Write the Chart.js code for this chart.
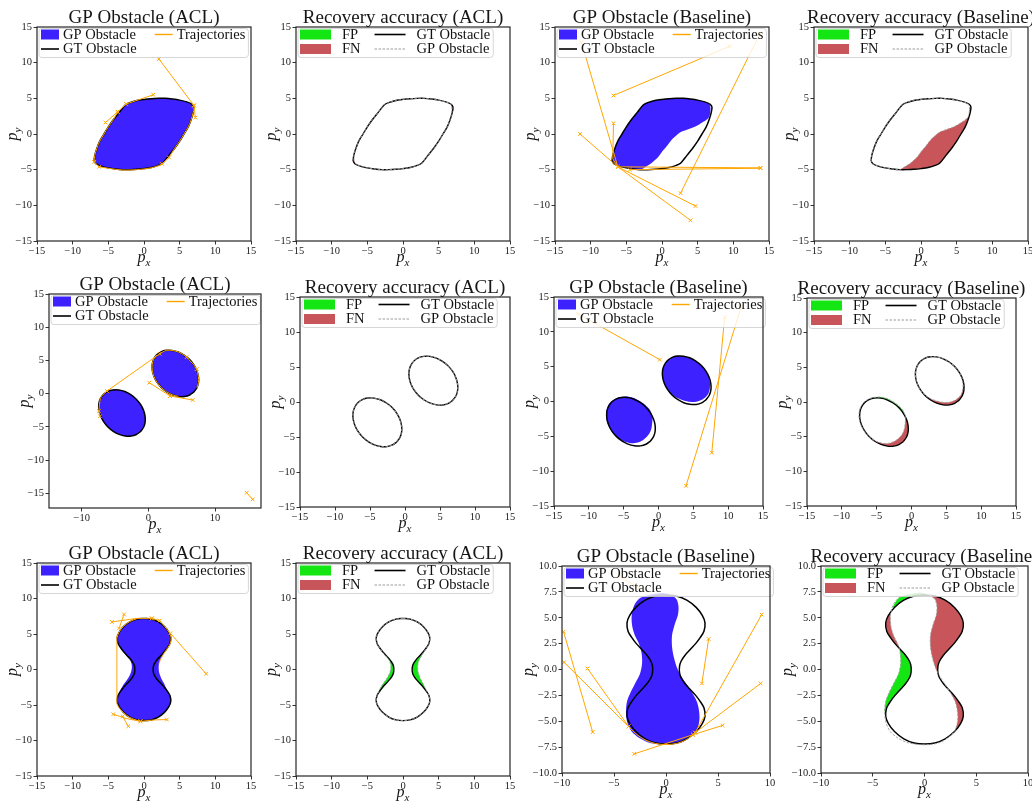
<!DOCTYPE html>
<html>
<head>
<meta charset="utf-8">
<script src="https://cdn.jsdelivr.net/npm/chart.js@4.4.1/dist/chart.umd.min.js"></script>
<style>
  html, body { margin: 0; padding: 0; background: #fff; width: 1032px; height: 801px; overflow: hidden; position: relative; }
  canvas { position: absolute; }
</style>
</head>
<body>
<script>
// ---------- text ----------
const panelTitles = ['GP Obstacle (ACL)', 'Recovery accuracy (ACL)', 'GP Obstacle (Baseline)', 'Recovery accuracy (Baseline)'];
const seriesNames = { gp: 'GP Obstacle', gt: 'GT Obstacle', traj: 'Trajectories', fp: 'FP', fn: 'FN' };

// ---------- axes ----------
const ticksFull = [-15, -10, -5, 0, 5, 10, 15];
const ticksWideX = [-10, 0, 10];
const ticksTen = [-10, -5, 0, 5, 10];
const ticksTenY = [-10, -7.5, -5, -2.5, 0, 2.5, 5, 7.5, 10];
const rangeFull = [-15, 15];
const rangeWideX = [-14.9, 16.9];
const rangeWideY = [-17.2, 15];
const rangeTen = [-10, 10];

// ---------- obstacle 1: lens ----------
const gtLens = [[-7.0,-3.8],[-6.9,-3.0],[-6.6,-2.0],[-6.2,-1.0],[-5.6,0.0],[-5.0,1.0],[-4.3,2.0],[-3.5,3.0],[-2.6,4.1],[-2.0,4.4],[-1.0,4.7],[0.0,4.85],[1.0,4.95],[2.0,5.0],[3.0,5.0],[4.0,4.9],[5.0,4.75],[6.0,4.5],[6.7,4.2],[7.0,3.8],[6.9,3.0],[6.6,2.0],[6.2,1.0],[5.6,0.0],[5.0,-1.0],[4.3,-2.0],[3.5,-3.0],[2.6,-4.1],[2.0,-4.4],[1.0,-4.7],[0.0,-4.85],[-1.0,-4.95],[-2.0,-5.0],[-3.0,-5.0],[-4.0,-4.9],[-5.0,-4.75],[-6.0,-4.5],[-6.7,-4.2],[-7.0,-3.8]];
const gpAclLens = [[-6.85,-3.75],[-6.9,-3.0],[-6.6,-2.0],[-6.2,-1.0],[-5.6,0.0],[-5.0,1.0],[-4.3,2.0],[-3.5,3.0],[-2.6,4.1],[-2.0,4.4],[-1.0,4.7],[0.0,4.85],[1.0,4.95],[2.0,5.0],[3.0,5.0],[4.0,4.9],[5.0,4.75],[6.0,4.5],[6.7,4.2],[6.85,3.7],[6.85,3.0],[6.6,2.0],[6.2,1.0],[5.6,0.0],[5.0,-1.0],[4.3,-2.0],[3.5,-3.0],[2.6,-4.1],[2.0,-4.4],[1.0,-4.7],[0.0,-4.85],[-1.0,-4.95],[-2.0,-5.0],[-3.0,-5.0],[-4.0,-4.9],[-5.0,-4.75],[-6.0,-4.5],[-6.65,-4.15],[-6.85,-3.75]];
const fnAclLensA = [[6.7,4.2],[7.0,3.8],[7.05,3.3],[6.9,3.0],[6.85,3.7]];
const fnAclLensB = [[-6.9,-3.0],[-7.0,-3.8],[-6.7,-4.2],[-6.85,-3.75]];
const gpBaseLens = [[-7.0,-3.8],[-6.9,-3.0],[-6.6,-2.0],[-6.2,-1.0],[-5.6,0.0],[-5.0,1.0],[-4.3,2.0],[-3.5,3.0],[-2.6,4.1],[-2.0,4.4],[-1.0,4.7],[0.0,4.85],[1.0,4.95],[2.0,5.0],[3.0,5.0],[4.0,4.9],[5.0,4.75],[6.0,4.5],[6.6,4.2],[6.8,3.6],[6.6,2.4],[5.8,1.7],[4.6,1.0],[3.5,0.6],[2.7,0.3],[1.8,-0.4],[1.2,-1.0],[0.6,-1.8],[0.0,-2.5],[-0.5,-3.2],[-1.5,-4.1],[-2.6,-4.8],[-3.0,-5.0],[-4.0,-4.9],[-5.0,-4.75],[-6.0,-4.5],[-6.7,-4.2],[-7.0,-3.8]];
const fnBaseLens = [[7.0,3.8],[6.9,3.0],[6.6,2.0],[6.2,1.0],[5.6,0.0],[5.0,-1.0],[4.3,-2.0],[3.5,-3.0],[2.6,-4.1],[2.0,-4.4],[1.0,-4.7],[0.0,-4.85],[-1.0,-4.95],[-2.0,-5.0],[-2.8,-5.0],[-2.6,-4.8],[-1.5,-4.1],[-0.5,-3.2],[0.0,-2.5],[0.6,-1.8],[1.2,-1.0],[1.8,-0.4],[2.7,0.3],[3.5,0.6],[4.6,1.0],[5.8,1.7],[6.6,2.4],[6.8,3.6]];
const trajAclLens = [[[2.1,10.5],[7.0,4.0]],[[7.0,4.0],[7.2,2.3]],[[1.3,5.5],[-2.5,4.2]],[[-2.5,4.2],[-3.7,3.1]],[[-3.7,3.1],[-5.4,1.6]],[[-6.3,-4.6],[-7.0,-3.9]],[[2.5,-4.2],[3.5,-3.3]]];
const hugAclLens = [
  [[-3.7,3.1],[-4.3,2.0],[-5.0,1.0],[-5.6,0.0],[-6.2,-1.0],[-6.6,-2.0],[-6.9,-3.0],[-7.0,-3.9]],
  [[-6.3,-4.6],[-5.0,-4.8],[-4.0,-4.95],[-3.0,-5.05],[-2.0,-5.05],[-1.0,-5.0],[0.0,-4.9],[1.0,-4.75],[2.0,-4.45],[2.5,-4.2]],
  [[3.5,-3.3],[4.3,-2.0],[5.0,-1.0],[5.6,0.0],[6.2,1.0],[6.6,2.0],[6.9,3.0],[7.05,3.7]]
];
const trajBaseLens = [[[9.5,12.3],[-6.8,5.4]],[[13.7,14.0],[2.6,-8.3]],[[-11.3,12.9],[-6.2,-4.6],[4.7,-10.1]],[[-11.5,0.0],[-6.2,-4.6],[4.0,-12.1]],[[-6.8,1.5],[-6.9,-3.5],[-6.2,-4.6]],[[-6.2,-4.6],[13.8,-4.75]],[[-4.5,-5.0],[13.8,-4.8]]];

// ---------- obstacle 2: two ellipses ----------
const gtEllUp = [[6.84,0.26],[7.29,0.90],[7.52,1.68],[7.51,2.57],[7.27,3.48],[6.81,4.36],[6.16,5.16],[5.36,5.81],[4.48,6.27],[3.57,6.51],[2.68,6.52],[1.90,6.29],[1.26,5.84],[0.81,5.20],[0.58,4.42],[0.59,3.53],[0.83,2.62],[1.29,1.74],[1.94,0.94],[2.74,0.29],[3.62,-0.17],[4.53,-0.41],[5.42,-0.42],[6.20,-0.19],[6.84,0.26]];
const gtEllLow = [[-1.16,-5.69],[-0.71,-5.05],[-0.48,-4.27],[-0.49,-3.38],[-0.73,-2.47],[-1.19,-1.59],[-1.84,-0.79],[-2.64,-0.14],[-3.52,0.32],[-4.43,0.56],[-5.32,0.57],[-6.10,0.34],[-6.74,-0.11],[-7.19,-0.75],[-7.42,-1.53],[-7.41,-2.42],[-7.17,-3.33],[-6.71,-4.21],[-6.06,-5.01],[-5.26,-5.66],[-4.38,-6.12],[-3.47,-6.36],[-2.58,-6.37],[-1.80,-6.14],[-1.16,-5.69]];
const gpBaseEllUp = [[6.75,0.6],[7.15,1.1],[7.35,1.75],[7.4,2.55],[7.25,3.48],[6.81,4.36],[6.16,5.16],[5.36,5.81],[4.48,6.27],[3.57,6.51],[2.68,6.52],[1.90,6.29],[1.26,5.84],[0.81,5.20],[0.58,4.42],[0.59,3.53],[0.83,2.62],[1.29,1.74],[1.96,0.98],[2.8,0.45],[3.62,0.15],[4.52,-0.05],[5.4,-0.05],[6.15,0.2],[6.75,0.6]];
const gpBaseEllLow = [[-1.7,-5.1],[-1.25,-4.5],[-1.0,-3.8],[-0.9,-3.0],[-0.85,-2.2],[-1.2,-1.25],[-1.9,-0.5],[-2.75,0.1],[-3.65,0.55],[-4.55,0.72],[-5.4,0.65],[-6.2,0.4],[-6.85,-0.05],[-7.3,-0.7],[-7.52,-1.5],[-7.5,-2.4],[-7.25,-3.3],[-6.8,-4.15],[-6.2,-4.9],[-5.45,-5.5],[-4.6,-5.85],[-3.8,-6.0],[-3.0,-5.9],[-2.3,-5.6],[-1.7,-5.1]];
const fnBaseEllUp = [[1.94,0.94],[2.74,0.29],[3.62,-0.17],[4.53,-0.41],[5.42,-0.42],[6.20,-0.19],[6.84,0.26],[7.29,0.90],[7.52,1.68],[7.51,2.57],[7.27,3.48],[7.25,3.48],[7.4,2.55],[7.35,1.75],[7.15,1.1],[6.75,0.6],[6.15,0.2],[5.4,-0.05],[4.52,-0.05],[3.62,0.15],[2.8,0.45],[1.96,0.98]];
const fnBaseEllLow = [[-0.73,-2.47],[-0.49,-3.38],[-0.48,-4.27],[-0.71,-5.05],[-1.16,-5.69],[-1.80,-6.14],[-2.58,-6.37],[-3.47,-6.36],[-4.38,-6.12],[-5.26,-5.66],[-5.45,-5.5],[-4.6,-5.85],[-3.8,-6.0],[-3.0,-5.9],[-2.3,-5.6],[-1.7,-5.1],[-1.25,-4.5],[-1.0,-3.8],[-0.9,-3.0],[-0.85,-2.2]];
const fpBaseEllLow = [[-0.85,-2.2],[-1.2,-1.25],[-1.9,-0.5],[-2.75,0.1],[-3.65,0.55],[-4.55,0.72],[-5.4,0.65],[-5.32,0.57],[-4.43,0.56],[-3.52,0.32],[-2.64,-0.14],[-1.84,-0.79],[-1.19,-1.59],[-0.73,-2.47]];
const trajAclEll = [[[-6.2,0.4],[1.7,6.0]],[[0.15,1.65],[3.25,-0.35]],[[3.25,-0.35],[6.65,-0.95]],[[14.75,-14.9],[15.65,-15.9]],[[5.75,5.5],[6.81,4.36],[7.25,3.7]],[[-7.25,-3.4],[-7.42,-2.6]]];
const hugAclEll = [
  [[-7.42,-2.6],[-7.19,-0.75],[-6.74,-0.11],[-6.2,0.4]],
  [[1.7,6.0],[2.68,6.52],[3.57,6.51],[4.48,6.27],[5.36,5.81],[5.75,5.5]],
  [[7.25,3.7],[7.51,2.57],[7.52,1.68],[7.29,0.9]],
  [[1.26,5.84],[0.81,5.2],[0.58,4.42],[0.59,3.53],[0.83,2.62],[1.29,1.74],[1.94,0.94],[2.74,0.29],[3.62,-0.17],[4.53,-0.41]]
];
const trajBaseEll = [[[-11.6,12.6],[0.2,6.0]],[[11.9,13.7],[3.95,-12.1]],[[9.5,12.1],[7.65,-7.35]]];

// ---------- obstacle 3: hourglass ----------
const gtHg = [[0,7.2],[-1.0,7.1],[-2.0,6.7],[-2.9,6.0],[-3.5,5.2],[-3.75,4.5],[-3.65,3.7],[-3.3,3.1],[-2.85,2.5],[-2.35,1.95],[-1.85,1.4],[-1.45,0.8],[-1.3,0.3],[-1.3,-0.3],[-1.45,-0.8],[-1.85,-1.4],[-2.35,-1.95],[-2.85,-2.5],[-3.3,-3.1],[-3.65,-3.7],[-3.75,-4.5],[-3.5,-5.2],[-2.9,-6.0],[-2.0,-6.7],[-1.0,-7.1],[0,-7.2],[1.0,-7.1],[2.0,-6.7],[2.9,-6.0],[3.5,-5.2],[3.75,-4.5],[3.65,-3.7],[3.3,-3.1],[2.85,-2.5],[2.35,-1.95],[1.85,-1.4],[1.45,-0.8],[1.3,-0.3],[1.3,0.3],[1.45,0.8],[1.85,1.4],[2.35,1.95],[2.85,2.5],[3.3,3.1],[3.65,3.7],[3.75,4.5],[3.5,5.2],[2.9,6.0],[2.0,6.7],[1.0,7.1],[0,7.2]];
const gpAclHg = [[0,7.2],[-1.0,7.1],[-2.0,6.7],[-2.9,6.0],[-3.5,5.2],[-3.75,4.5],[-3.65,3.7],[-3.3,3.1],[-2.9,2.5],[-2.45,1.95],[-2.0,1.4],[-1.75,0.8],[-1.7,0.3],[-1.8,-0.3],[-2.0,-0.8],[-2.35,-1.4],[-2.75,-1.95],[-3.1,-2.5],[-3.4,-3.1],[-3.65,-3.7],[-3.75,-4.5],[-3.5,-5.2],[-2.9,-6.0],[-2.0,-6.7],[-1.0,-7.1],[0,-7.2],[1.0,-7.1],[2.0,-6.7],[2.9,-6.0],[3.5,-5.2],[3.75,-4.5],[3.65,-3.7],[3.35,-3.1],[3.05,-2.5],[2.8,-1.95],[2.5,-1.4],[2.25,-0.8],[2.1,-0.3],[2.05,0.3],[2.1,0.8],[2.3,1.4],[2.6,1.95],[2.95,2.5],[3.3,3.1],[3.65,3.7],[3.75,4.5],[3.5,5.2],[2.9,6.0],[2.0,6.7],[1.0,7.1],[0,7.2]];
const fpAclHgL = [[-2.9,2.5],[-2.45,1.95],[-2.0,1.4],[-1.75,0.8],[-1.7,0.3],[-1.8,-0.3],[-2.0,-0.8],[-2.35,-1.4],[-2.75,-1.95],[-3.1,-2.5],[-3.4,-3.1],[-3.3,-3.1],[-2.85,-2.5],[-2.35,-1.95],[-1.85,-1.4],[-1.45,-0.8],[-1.3,-0.3],[-1.3,0.3],[-1.45,0.8],[-1.85,1.4],[-2.35,1.95],[-2.85,2.5]];
const fpAclHgR = [[3.35,-3.1],[3.05,-2.5],[2.8,-1.95],[2.5,-1.4],[2.25,-0.8],[2.1,-0.3],[2.05,0.3],[2.1,0.8],[2.3,1.4],[2.6,1.95],[2.95,2.5],[2.85,2.5],[2.35,1.95],[1.85,1.4],[1.45,0.8],[1.3,0.3],[1.3,-0.3],[1.45,-0.8],[1.85,-1.4],[2.35,-1.95],[2.85,-2.5],[3.3,-3.1]];
const gpBaseHg = [[-0.4,7.4],[-1.5,7.25],[-2.5,6.9],[-3.05,6.2],[-3.3,5.2],[-3.25,4.2],[-3.0,3.3],[-2.6,2.5],[-2.35,1.6],[-2.3,0.6],[-2.5,-0.4],[-2.95,-1.3],[-3.4,-2.2],[-3.75,-3.1],[-3.85,-4.2],[-3.7,-5.2],[-3.3,-6.0],[-2.6,-6.6],[-1.7,-7.05],[-0.5,-7.25],[0.5,-7.25],[1.5,-7.05],[2.3,-6.55],[2.95,-5.9],[3.2,-5.0],[3.2,-4.2],[3.0,-3.2],[2.6,-2.4],[2.1,-1.6],[1.5,-0.7],[1.05,0.2],[0.75,1.2],[0.58,2.2],[0.58,3.3],[0.85,4.4],[1.15,5.3],[1.2,6.1],[1.0,6.8],[0.4,7.25],[-0.4,7.4]];
const fnBaseHgR = [[0.3,7.2],[1.0,7.1],[2.0,6.7],[2.9,6.0],[3.5,5.2],[3.75,4.5],[3.65,3.7],[3.3,3.1],[2.85,2.5],[2.35,1.95],[1.85,1.4],[1.45,0.8],[1.3,0.3],[1.3,-0.3],[1.35,-0.5],[1.05,0.2],[0.75,1.2],[0.58,2.2],[0.58,3.3],[0.85,4.4],[1.15,5.3],[1.2,6.1],[1.0,6.8],[0.4,7.2]];
const fnBaseHgL = [[-3.25,5.6],[-3.5,5.2],[-3.75,4.5],[-3.65,3.7],[-3.3,3.1],[-2.85,2.5],[-2.45,2.05],[-2.6,2.5],[-3.0,3.3],[-3.25,4.2],[-3.3,5.2],[-3.25,5.6]];
const fnBaseHgLow = [[2.05,-1.6],[2.35,-1.95],[2.85,-2.5],[3.3,-3.1],[3.65,-3.7],[3.75,-4.5],[3.5,-5.2],[2.9,-6.0],[2.95,-5.9],[3.2,-5.0],[3.2,-4.2],[3.0,-3.2],[2.6,-2.4],[2.1,-1.6]];
const fpBaseHgL = [[-2.45,2.05],[-2.35,1.6],[-2.3,0.6],[-2.5,-0.4],[-2.95,-1.3],[-3.4,-2.2],[-3.75,-3.1],[-3.85,-4.2],[-3.72,-4.2],[-3.65,-3.7],[-3.3,-3.1],[-2.85,-2.5],[-2.35,-1.95],[-1.85,-1.4],[-1.45,-0.8],[-1.3,-0.3],[-1.3,0.3],[-1.45,0.8],[-1.85,1.4],[-2.35,1.95]];
const fpBaseHgTop = [[-3.1,6.0],[-2.5,6.9],[-1.5,7.25],[-0.4,7.4],[0.3,7.25],[0,7.2],[-1.0,7.1],[-2.0,6.7],[-2.9,6.0]];
const trajAclHg = [[[-4.5,6.7],[-1.0,7.2],[1.1,7.2]],[[1.1,7.2],[2.2,6.9]],[[3.7,5.1],[8.7,-0.6]],[[-2.8,7.75],[-3.5,5.8]],[[-4.3,-6.3],[-2.5,-6.9],[-0.5,-7.3]],[[-0.5,-7.3],[1.5,-7.1],[3.2,-7.05]],[[-2.2,-8.0],[-3.0,-6.6]]];
const hugAclHg = [
  [[-1.0,7.15],[-2.0,6.75],[-2.9,6.05],[-3.5,5.25],[-3.8,4.5]],
  [[2.2,6.9],[2.9,6.05],[3.5,5.25],[3.8,4.5],[3.7,3.7],[3.35,3.1],[2.95,2.5],[2.6,1.95],[2.3,1.4],[2.1,0.8]],
  [[-3.8,4.8],[-3.8,-4.8]],
  [[-3.8,-4.8],[-3.55,-5.3],[-2.9,-6.05],[-2.0,-6.75],[-1.0,-7.15],[-0.5,-7.3]]
];
const trajBaseHg = [[[-4.5,9.0],[-2.6,7.9]],[[-9.85,3.65],[-7.05,-6.05]],[[-9.8,0.7],[-3.6,-5.5]],[[-7.55,0.1],[-3.6,-5.5]],[[4.1,2.95],[3.45,-1.35]],[[9.2,5.3],[2.8,-6.1]],[[9.1,-1.35],[2.8,-6.1]],[[5.45,-5.4],[2.6,-6.3]],[[-3.05,-8.15],[2.6,-6.3]]];
const hugBaseHg = [[[-3.6,-5.5],[-2.9,-6.2],[-2.0,-6.8],[-1.0,-7.15],[0.0,-7.25],[1.0,-7.15],[2.0,-6.75],[2.8,-6.1]]];

// ---------- styling ----------
const FONT = "'Liberation Serif', 'Times New Roman', serif";
const C_GP = '#3d22ff', C_FP = '#14e614', C_FN = '#c8555a', C_TR = '#ffa500', C_GT = '#000000', C_GPL = '#9c9c9c';

function xy(a) { return a.map(p => ({ x: p[0], y: p[1] })); }
function area(points, color) {
  return { data: xy(points), fill: 'shape', backgroundColor: color, borderColor: color, borderWidth: 0, pointRadius: 0, tension: 0.3 };
}
function outline(points, color, width, dash) {
  return { data: xy(points), fill: false, borderColor: color, borderWidth: width, borderDash: dash || [], pointRadius: 0, tension: 0.3 };
}
function paths(list, marked) {
  return list.map(p => ({
    data: xy(p), fill: false, borderColor: C_TR, borderWidth: 1, tension: marked ? 0 : 0.3,
    pointStyle: 'crossRot', pointBorderColor: C_TR, pointBackgroundColor: C_TR, pointBorderWidth: 1,
    pointRadius: marked ? (c => (c.dataIndex === 0 || c.dataIndex === p.length - 1) ? 2.6 : 0) : 0
  }));
}
function gpLayers(gps, gts, trajs, hugs) {
  return [].concat(gps.map(s => area(s, C_GP)), gts.map(s => outline(s, C_GT, 1.5)), paths(hugs, false), paths(trajs, true));
}
function accLayers(fps, fns, gts, gps) {
  return [].concat(fps.map(s => area(s, C_FP)), fns.map(s => area(s, C_FN)),
    gts.map(s => outline(s, C_GT, 1.4)), gps.map(s => outline(s, C_GPL, 0.9, [2.5, 1.5])));
}

const legendGP = { handle: 18, pad: 4, gap: 18, cols: [
  [{ label: seriesNames.gp, kind: 'patch', color: C_GP }, { label: seriesNames.gt, kind: 'line', color: C_GT, width: 1.6 }],
  [{ label: seriesNames.traj, kind: 'line', color: C_TR, width: 1.4 }]] };
const legendAcc = { handle: 31, pad: 11, gap: 14, cols: [
  [{ label: seriesNames.fp, kind: 'patch', color: C_FP }, { label: seriesNames.fn, kind: 'patch', color: C_FN }],
  [{ label: seriesNames.gt, kind: 'line', color: C_GT, width: 1.6 }, { label: seriesNames.gp, kind: 'line', color: C_GPL, width: 1, dash: [2.5, 1.5] }]] };

const panels = [
  { rect: [37, 27, 251, 241], title: panelTitles[0], x: rangeFull, y: rangeFull, xt: ticksFull, yt: ticksFull, yd: 0, legend: legendGP,
    layers: gpLayers([gpAclLens], [gtLens], trajAclLens, hugAclLens) },
  { rect: [296, 27, 510, 241], title: panelTitles[1], x: rangeFull, y: rangeFull, xt: ticksFull, yt: ticksFull, yd: 0, legend: legendAcc,
    layers: accLayers([], [fnAclLensA, fnAclLensB], [gtLens], [gpAclLens]) },
  { rect: [555, 27, 769, 241], title: panelTitles[2], x: rangeFull, y: rangeFull, xt: ticksFull, yt: ticksFull, yd: 0, legend: legendGP,
    layers: gpLayers([gpBaseLens], [gtLens], trajBaseLens, []) },
  { rect: [814, 27, 1028, 241], title: panelTitles[3], x: rangeFull, y: rangeFull, xt: ticksFull, yt: ticksFull, yd: 0, legend: legendAcc,
    layers: accLayers([], [fnBaseLens], [gtLens], [gpBaseLens]) },

  { rect: [49, 294, 261, 508], title: panelTitles[0], x: rangeWideX, y: rangeWideY, xt: ticksWideX, yt: ticksFull, yd: 0, legend: legendGP,
    layers: gpLayers([gtEllUp, gtEllLow], [gtEllUp, gtEllLow], trajAclEll, hugAclEll) },
  { rect: [300, 297, 510, 507], title: panelTitles[1], x: rangeFull, y: rangeFull, xt: ticksFull, yt: ticksFull, yd: 0, legend: legendAcc,
    layers: accLayers([], [], [gtEllUp, gtEllLow], [gtEllUp, gtEllLow]) },
  { rect: [554, 297, 763, 506], title: panelTitles[2], x: rangeFull, y: rangeFull, xt: ticksFull, yt: ticksFull, yd: 0, legend: legendGP,
    layers: gpLayers([gpBaseEllUp, gpBaseEllLow], [gtEllUp, gtEllLow], trajBaseEll, []) },
  { rect: [807, 298, 1016, 506], title: panelTitles[3], x: rangeFull, y: rangeFull, xt: ticksFull, yt: ticksFull, yd: 0, legend: legendAcc,
    layers: accLayers([fpBaseEllLow], [fnBaseEllUp, fnBaseEllLow], [gtEllUp, gtEllLow], [gpBaseEllUp, gpBaseEllLow]) },

  { rect: [37, 563, 251, 776], title: panelTitles[0], x: rangeFull, y: rangeFull, xt: ticksFull, yt: ticksFull, yd: 0, legend: legendGP,
    layers: gpLayers([gpAclHg], [gtHg], trajAclHg, hugAclHg) },
  { rect: [296, 563, 510, 776], title: panelTitles[1], x: rangeFull, y: rangeFull, xt: ticksFull, yt: ticksFull, yd: 0, legend: legendAcc,
    layers: accLayers([fpAclHgL, fpAclHgR], [], [gtHg], [gpAclHg]) },
  { rect: [562, 566, 770, 773], title: panelTitles[2], x: rangeTen, y: rangeTen, xt: ticksTen, yt: ticksTenY, yd: 1, legend: legendGP,
    layers: gpLayers([gpBaseHg], [gtHg], trajBaseHg, hugBaseHg) },
  { rect: [821, 566, 1028, 773], title: panelTitles[3], x: rangeTen, y: rangeTen, xt: ticksTen, yt: ticksTenY, yd: 1, legend: legendAcc,
    layers: accLayers([fpBaseHgL, fpBaseHgTop], [fnBaseHgR, fnBaseHgL, fnBaseHgLow], [gtHg], [gpBaseHg]) }
];

// ---------- frame, titles, axis labels and in-plot legend ----------
function subLabel(ctx, main, sub, cx, by) {
  ctx.font = 'italic 16px ' + FONT;
  const w1 = ctx.measureText(main).width;
  ctx.font = 'italic 11px ' + FONT;
  const w2 = ctx.measureText(sub).width;
  const x = cx - (w1 + w2) / 2;
  ctx.font = 'italic 16px ' + FONT;
  ctx.fillText(main, x, by);
  ctx.font = 'italic 11px ' + FONT;
  ctx.fillText(sub, x + w1, by + 3.5);
}

const decor = {
  id: 'decor',
  afterDatasetsDraw(chart, args, o) {
    const { ctx, chartArea: a } = chart;
    const lg = o.legend;
    ctx.save();
    ctx.font = '14.5px ' + FONT;
    const x0 = a.left + 2, y0 = a.top + 1.5;
    const colX = [];
    let x = x0 + 2;
    lg.cols.forEach(col => {
      colX.push(x);
      const tw = Math.max(...col.map(it => ctx.measureText(it.label).width));
      x += lg.handle + lg.pad + tw + lg.gap;
    });
    const w = x - lg.gap + 3 - x0, h = 29;
    ctx.beginPath();
    if (ctx.roundRect) ctx.roundRect(x0, y0, w, h, 3); else ctx.rect(x0, y0, w, h);
    ctx.fillStyle = 'rgba(255,255,255,0.8)';
    ctx.fill();
    ctx.strokeStyle = 'rgba(204,204,204,0.8)';
    ctx.lineWidth = 1;
    ctx.stroke();
    lg.cols.forEach((col, ci) => col.forEach((it, ri) => {
      const cy = y0 + 6 + ri * 14.5, hx = colX[ci];
      if (it.kind === 'patch') {
        ctx.fillStyle = it.color;
        ctx.fillRect(hx, cy - 5, lg.handle, 10);
      } else {
        ctx.beginPath();
        ctx.setLineDash(it.dash || []);
        ctx.strokeStyle = it.color;
        ctx.lineWidth = it.width;
        ctx.moveTo(hx, cy);
        ctx.lineTo(hx + lg.handle, cy);
        ctx.stroke();
        ctx.setLineDash([]);
      }
      ctx.fillStyle = '#111';
      ctx.textBaseline = 'middle';
      ctx.textAlign = 'left';
      ctx.font = '14.5px ' + FONT;
      ctx.fillText(it.label, hx + lg.handle + lg.pad, cy + 0.5);
    }));
    ctx.restore();
  },
  afterDraw(chart, args, o) {
    const { ctx, chartArea: a } = chart;
    ctx.save();
    ctx.strokeStyle = '#262626';
    ctx.lineWidth = 1.2;
    ctx.strokeRect(a.left, a.top, a.right - a.left, a.bottom - a.top);
    ctx.fillStyle = '#161616';
    ctx.textAlign = 'center';
    ctx.textBaseline = 'alphabetic';
    ctx.font = '19px ' + FONT;
    ctx.fillText(o.title, (a.left + a.right) / 2, a.top - 4.5);
    ctx.textAlign = 'left';
    subLabel(ctx, 'p', 'x', (a.left + a.right) / 2, a.bottom + 21);
    ctx.translate(a.left - o.yGap, (a.top + a.bottom) / 2);
    ctx.rotate(-Math.PI / 2);
    subLabel(ctx, 'p', 'y', 0, 0);
    ctx.restore();
  }
};

function fmt(v, d) { return (v < 0 ? '\u2212' : '') + Math.abs(v).toFixed(d); }

function axis(range, values, dec, isX) {
  return {
    type: 'linear', min: range[0], max: range[1],
    afterBuildTicks: s => { s.ticks = values.map(v => ({ value: v })); },
    afterFit: s => { if (isX) s.height = 34; else s.width = 44; },
    ticks: { font: { family: FONT, size: 10.5, lineHeight: 1 }, color: '#222', padding: 1.5, maxRotation: 0, autoSkip: false, callback: v => fmt(v, dec) },
    grid: { display: true, drawOnChartArea: false, drawTicks: true, tickLength: 3.5, tickColor: '#333', tickWidth: 1 },
    border: { display: false }
  };
}

panels.forEach(p => {
  const [L, T, R, B] = p.rect;
  const W = R - L + 44 + 12, H = B - T + 30 + 34;
  const cv = document.createElement('canvas');
  cv.width = W; cv.height = H;
  cv.style.left = (L - 44) + 'px';
  cv.style.top = (T - 30) + 'px';
  cv.style.width = W + 'px';
  cv.style.height = H + 'px';
  document.body.appendChild(cv);
  new Chart(cv, {
    type: 'line',
    data: { datasets: p.layers.slice().reverse() },
    options: {
      responsive: false, maintainAspectRatio: false, animation: false, events: [],
      layout: { padding: { top: 30, right: 12, left: 0, bottom: 0 } },
      scales: { x: axis(p.x, p.xt, 0, true), y: axis(p.y, p.yt, p.yd, false) },
      plugins: { legend: { display: false }, tooltip: { enabled: false },
        decor: { title: p.title, legend: p.legend, yGap: p.yd ? 29 : 20 } }
    },
    plugins: [decor]
  });
});
</script>
</body>
</html>
